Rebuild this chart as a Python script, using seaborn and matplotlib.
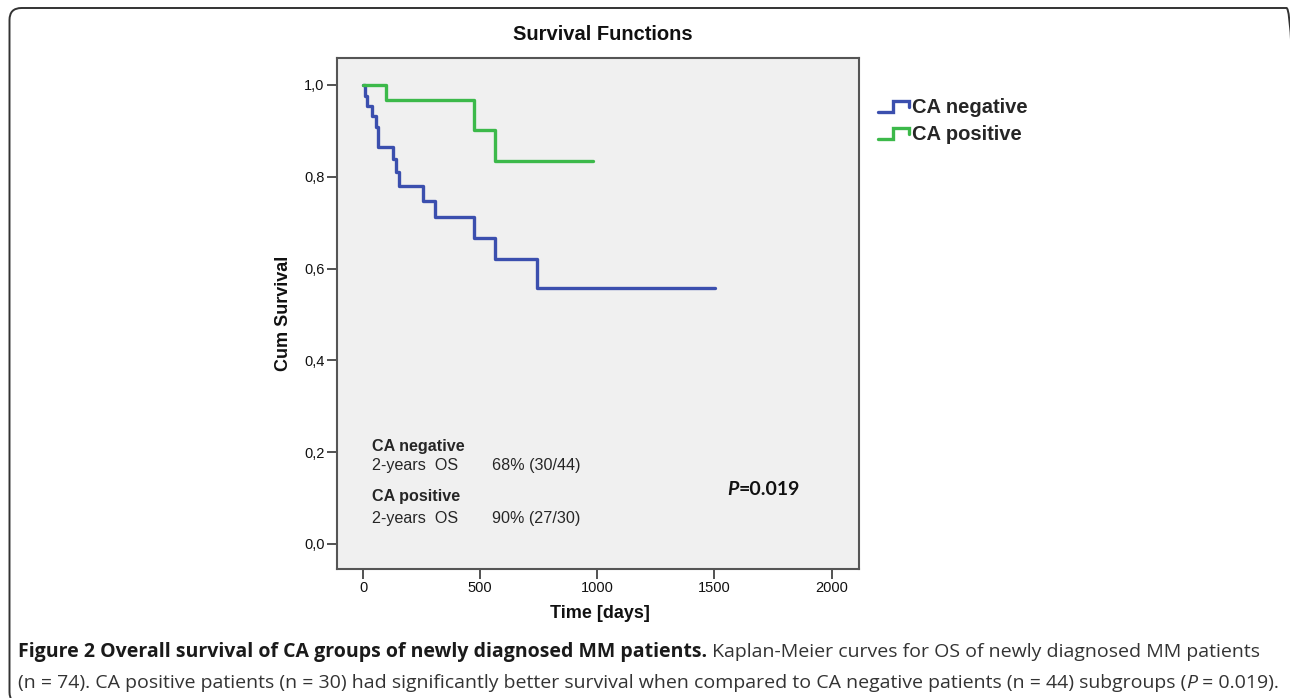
import numpy as np
import pandas as pd
import matplotlib
matplotlib.use('Agg')
import matplotlib.pyplot as plt
import matplotlib.transforms as mtransforms
from matplotlib.patches import FancyBboxPatch
from matplotlib.lines import Line2D
from matplotlib.legend_handler import HandlerBase
from matplotlib import font_manager
import seaborn as sns

# Kaplan-Meier step values (time in days, cum survival)
neg_time = [0, 8, 16, 38, 56, 63, 130, 140, 155, 258, 308, 473, 564, 741, 1504]
neg_surv = [1.0, 0.977, 0.955, 0.932, 0.909, 0.864, 0.838, 0.811, 0.780, 0.747, 0.713, 0.667, 0.620, 0.558, 0.558]
pos_time = [0, 98, 473, 564, 983]
pos_surv = [1.0, 0.967, 0.902, 0.834, 0.834]

groups = ['CA negative', 'CA positive']
colors = ['#3b4fae', '#3cb94a']

x_ticks = [0, 500, 1000, 1500, 2000]
y_ticks = [0.0, 0.2, 0.4, 0.6, 0.8, 1.0]
y_tick_labels = ['0,0', '0,2', '0,4', '0,6', '0,8', '1,0']

W, H = 1290, 698

sns.set_style('white')
plt.rcParams['font.family'] = ['Liberation Sans', 'DejaVu Sans']

avail = {f.name for f in font_manager.fontManager.ttflist}
cap_font = 'Liberation Sans Narrow' if 'Liberation Sans Narrow' in avail else 'Open Sans'


class StepHandler(HandlerBase):
    # little step glyph like the SPSS legend
    def create_artists(self, legend, orig_handle, xdescent, ydescent, width, height, fontsize, trans):
        x0, y0 = -xdescent, -ydescent
        xs = [x0, x0 + 0.45 * width, x0 + 0.45 * width, x0 + 0.95 * width, x0 + 0.95 * width]
        ys = [y0 + 0.1 * height, y0 + 0.1 * height, y0 + 0.85 * height, y0 + 0.85 * height, y0 + 0.45 * height]
        line = Line2D(xs, ys, color=orig_handle.get_color(), lw=orig_handle.get_linewidth(),
                      solid_joinstyle='miter')
        line.set_transform(trans)
        return [line]


def draw_pieces(fig, x_px, y_px, pieces, size, family):
    r = fig.canvas.get_renderer()
    x = x_px
    for txt, weight, style, col in pieces:
        t = fig.text(x / W, 1 - y_px / H, txt, fontsize=size, fontweight=weight, fontstyle=style,
                     family=family, va='center', ha='left', color=col)
        x += t.get_window_extent(r).width
    return x


def main():
    df = pd.DataFrame({
        'time': neg_time + pos_time,
        'surv': neg_surv + pos_surv,
        'group': [groups[0]] * len(neg_time) + [groups[1]] * len(pos_time),
    })

    fig = plt.figure(figsize=(W / 100, H / 100), dpi=100)
    ax = fig.add_axes([337 / W, 1 - 569 / H, (859 - 337) / W, (569 - 58) / H])
    ax.set_facecolor('#f0f0f0')

    sns.lineplot(data=df, x='time', y='surv', hue='group', hue_order=groups, palette=colors,
                 drawstyle='steps-post', estimator=None, linewidth=2.4, ax=ax)

    ax.set_xlim(-111, 2117)
    ax.set_ylim(-0.0545, 1.0588)
    ax.set_xticks(x_ticks)
    ax.set_yticks(y_ticks)
    ax.set_yticklabels(y_tick_labels)
    ax.tick_params(axis='both', bottom=True, left=True, direction='out', length=7, width=1.3,
                   color='#444', labelsize=10.5, labelcolor='#111', pad=2)
    for s in ax.spines.values():
        s.set_color('#555')
        s.set_linewidth(1.5)
    ax.set_xlabel('')
    ax.set_ylabel('')

    handles, labels = ax.get_legend_handles_labels()
    ax.get_legend().remove()
    fig.legend(handles, labels, handler_map={Line2D: StepHandler()}, loc='upper left',
               bbox_to_anchor=(860 / W, 1 - 80 / H), frameon=False, handlelength=1.6,
               handletextpad=0.1, labelspacing=0.4, prop={'weight': 'bold', 'size': 14.5})

    fig.text(603 / W, 1 - 34 / H, 'Survival Functions', ha='center', va='center',
             fontsize=14.5, fontweight='bold', color='#111')
    fig.text(600 / W, 1 - 613 / H, 'Time [days]', ha='center', va='center',
             fontsize=13, fontweight='bold', color='#111')
    fig.text(283 / W, 1 - 313 / H, 'Cum Survival', ha='center', va='center', rotation=90,
             fontsize=13, fontweight='bold', color='#111')

    # summary box inside the plot
    tx = (372 - 337) / (859 - 337)
    tx2 = (492 - 337) / (859 - 337)
    fs = 11.6
    ax.text(tx, 0.2407, 'CA negative', transform=ax.transAxes, va='center', fontsize=fs,
            fontweight='bold')
    ax.text(tx, 0.2016, '2-years  OS', transform=ax.transAxes, va='center', fontsize=fs)
    ax.text(tx2, 0.2016, '68% (30/44)', transform=ax.transAxes, va='center', fontsize=fs)
    ax.text(tx, 0.1410, 'CA positive', transform=ax.transAxes, va='center', fontsize=fs,
            fontweight='bold')
    ax.text(tx, 0.0998, '2-years  OS', transform=ax.transAxes, va='center', fontsize=fs)
    ax.text(tx2, 0.0998, '90% (27/30)', transform=ax.transAxes, va='center', fontsize=fs)

    r = fig.canvas.get_renderer()
    px = (727 - 337) / (859 - 337)
    tp = ax.text(px, 0.1546, 'P', transform=ax.transAxes, va='center', fontsize=14,
                 fontweight='bold', fontstyle='italic', family='Lato', color='#111')
    wp = tp.get_window_extent(r).width / ax.get_window_extent(r).width
    ax.text(px + wp, 0.1546, '=0.019', transform=ax.transAxes, va='center', fontsize=14,
            fontweight='bold', family='Lato', color='#111')

    # caption below the chart
    cap_size = 14.0
    draw_pieces(fig, 18, 652, [
        ('Figure 2 Overall survival of CA groups of newly diagnosed MM patients.', 'bold', 'normal', '#1a1a1a'),
        (' Kaplan-Meier curves for OS of newly diagnosed MM patients', 'normal', 'normal', '#333333'),
    ], cap_size, cap_font)
    draw_pieces(fig, 18, 683, [
        ('(n = 74). CA positive patients (n = 30) had significantly better survival when compared to '
         'CA negative patients (n = 44) subgroups (', 'normal', 'normal', '#333333'),
        ('P', 'normal', 'italic', '#333333'),
        (' = 0.019).', 'normal', 'normal', '#333333'),
    ], cap_size, cap_font)

    # rounded outer frame, running off the right edge
    frame = FancyBboxPatch((9.5, -6), 1289, 696, boxstyle='round,pad=0,rounding_size=12',
                           transform=mtransforms.IdentityTransform(), fill=False,
                           edgecolor='#333333', linewidth=1.4)
    fig.add_artist(frame)

    fig.savefig('out.png', dpi=100)


if __name__ == '__main__':
    main()
